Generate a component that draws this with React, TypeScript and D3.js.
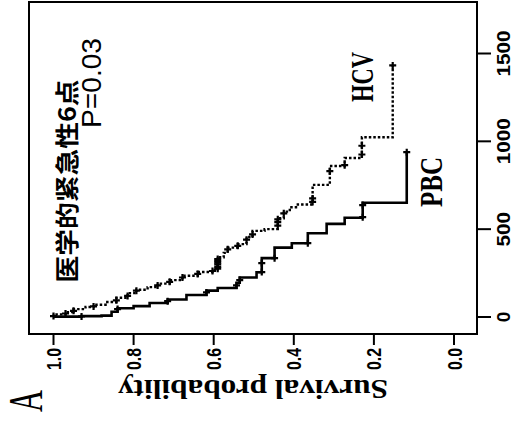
import React from "react";
import * as d3 from "d3";

// Kaplan-Meier survival by group, drawn rotated 90° (time runs upward).
const timeTicks = [0, 500, 1000, 1500];
const survTicks = [1.0, 0.8, 0.6, 0.4, 0.2, 0.0];
const survTickLabels = ["1.0", "0.8", "0.6", "0.4", "0.2", "0.0"];

// HCV: event times (days) and survival after each event
const hcvTimes = [15, 28, 45, 57, 70, 85, 110, 136, 155, 170, 190, 210, 235, 256, 268, 340, 365, 395, 415, 455, 490, 500, 562, 600, 625, 640, 752, 860, 905, 1023];
const hcvSurv = [0.97, 0.95, 0.92, 0.9, 0.87, 0.843, 0.815, 0.793, 0.765, 0.74, 0.71, 0.678, 0.64, 0.603, 0.59, 0.575, 0.565, 0.54, 0.518, 0.503, 0.473, 0.44, 0.425, 0.41, 0.39, 0.353, 0.31, 0.273, 0.23, 0.153];
const hcvEnd = 1432;
const hcvCensor = [5, 20, 35, 60, 95, 120, 150, 180, 200, 225, 245, 262, 275, 285, 300, 310, 320, 330, 385, 405, 440, 470, 520, 540, 556, 590, 655, 675, 830, 864, 925, 975, 1432];

// PBC: event times (days) and survival after each event
const pbcTimes = [2, 5, 8, 30, 50, 62, 80, 100, 125, 150, 165, 195, 225, 255, 335, 395, 420, 477, 530, 565, 650];
const pbcSurv = [0.93, 0.88, 0.855, 0.84, 0.8, 0.76, 0.715, 0.668, 0.618, 0.59, 0.543, 0.535, 0.493, 0.48, 0.448, 0.405, 0.365, 0.318, 0.273, 0.228, 0.118];
const pbcEnd = 938;
const pbcCensor = [3, 45, 90, 140, 180, 210, 256, 307, 335, 420, 568, 637, 938];

type Pt = { t: number; s: number };

function curvePoints(times: number[], surv: number[], end: number): Pt[] {
  const pts: Pt[] = [{ t: 0, s: 1 }];
  times.forEach((t, i) => pts.push({ t, s: surv[i] }));
  pts.push({ t: end, s: surv[surv.length - 1] });
  return pts;
}

function survAt(times: number[], surv: number[], t: number): number {
  let s = 1;
  for (let i = 0; i < times.length; i++) if (times[i] <= t) s = surv[i];
  return s;
}

export default function App() {
  const W = 513;
  const H = 427;
  // survival runs right-to-left along the bottom, time bottom-to-top on the right
  const sx = d3.scaleLinear().domain([0, 1]).range([454, 53.5]);
  const ty = d3.scaleLinear().domain([0, 1500]).range([317, 53.5]);
  const box = { left: 29, right: 477, top: 2, bottom: 334 };

  const line = d3
    .line<Pt>()
    .x((d) => sx(d.s))
    .y((d) => ty(d.t))
    .curve(d3.curveStepBefore);

  const hcvPts = curvePoints(hcvTimes, hcvSurv, hcvEnd);
  const pbcPts = curvePoints(pbcTimes, pbcSurv, pbcEnd);

  const cross = (x: number, y: number, key: string) => (
    <path key={key} d={`M${x - 3.5},${y}H${x + 3.5}M${x},${y - 3.5}V${y + 3.5}`} stroke="#000" strokeWidth={2.2} />
  );

  const sans = "'Liberation Sans', Arial, sans-serif";
  const serif = "'Liberation Serif', 'Times New Roman', serif";

  return (
    <svg width={W} height={H} style={{ position: "absolute", left: 0, top: 0, background: "#fff" }}>
      <rect x={0} y={0} width={W} height={H} fill="#fff" />
      {/* plot frame */}
      <rect x={box.left} y={box.top} width={box.right - box.left} height={box.bottom - box.top} fill="none" stroke="#000" strokeWidth={2} />

      {/* survival axis */}
      {survTicks.map((v, i) => (
        <g key={"s" + i}>
          <line x1={sx(v)} x2={sx(v)} y1={box.bottom} y2={box.bottom + 11} stroke="#000" strokeWidth={2} />
          <text
            transform={`translate(${sx(v) + 7.5},348) rotate(-90)`}
            textAnchor="end"
            fontFamily={sans}
            fontWeight={700}
            fontSize={20}
            textLength={22}
            lengthAdjust="spacingAndGlyphs"
          >
            {survTickLabels[i]}
          </text>
        </g>
      ))}
      <text
        transform="translate(253,380) rotate(180)"
        textAnchor="middle"
        fontFamily={serif}
        fontWeight={700}
        fontSize={27}
        textLength={270}
        lengthAdjust="spacingAndGlyphs"
      >
        Survival probability
      </text>

      {/* time axis */}
      {timeTicks.map((v) => (
        <g key={"t" + v}>
          <line x1={box.right} x2={box.right + 14} y1={ty(v)} y2={ty(v)} stroke="#000" strokeWidth={2} />
          <text
            transform={`translate(510,${ty(v)}) rotate(-90)`}
            textAnchor="middle"
            fontFamily={sans}
            fontWeight={700}
            fontSize={19}
            {...(v > 0 ? { textLength: String(v).length * 11.5, lengthAdjust: "spacingAndGlyphs" } : {})}
          >
            {v}
          </text>
        </g>
      ))}

      {/* curves */}
      <path d={line(pbcPts) || ""} fill="none" stroke="#000" strokeWidth={2.6} />
      <path d={line(hcvPts) || ""} fill="none" stroke="#000" strokeWidth={2.4} strokeDasharray="2.5 2" />
      {hcvCensor.map((t, i) => cross(sx(survAt(hcvTimes, hcvSurv, t)), ty(t), "hc" + i))}
      {pbcCensor.map((t, i) => cross(sx(survAt(pbcTimes, pbcSurv, t)), ty(t), "pc" + i))}

      {/* group labels */}
      <text transform="translate(373,77) rotate(-90)" textAnchor="middle" fontFamily={serif} fontWeight={700} fontSize={31} textLength={50} lengthAdjust="spacingAndGlyphs">
        HCV
      </text>
      <text transform="translate(442,182) rotate(-90)" textAnchor="middle" fontFamily={serif} fontWeight={700} fontSize={31} textLength={50} lengthAdjust="spacingAndGlyphs">
        PBC
      </text>
      <text transform="translate(101,83) rotate(-90)" textAnchor="middle" fontFamily={sans} fontSize={28} textLength={90} lengthAdjust="spacingAndGlyphs">
        P=0.03
      </text>
      <text
        transform="translate(76,181) rotate(-90)"
        textAnchor="middle"
        fontFamily="'Noto Sans CJK SC', sans-serif"
        fontWeight={700}
        fontSize={24}
        textLength={203}
        lengthAdjust="spacingAndGlyphs"
      >
        医学的紧急性6点
      </text>

      {/* panel letter */}
      <text transform="translate(42,401) rotate(-90)" textAnchor="middle" fontFamily={serif} fontSize={48} textLength={22} lengthAdjust="spacingAndGlyphs">
        A
      </text>
    </svg>
  );
}
